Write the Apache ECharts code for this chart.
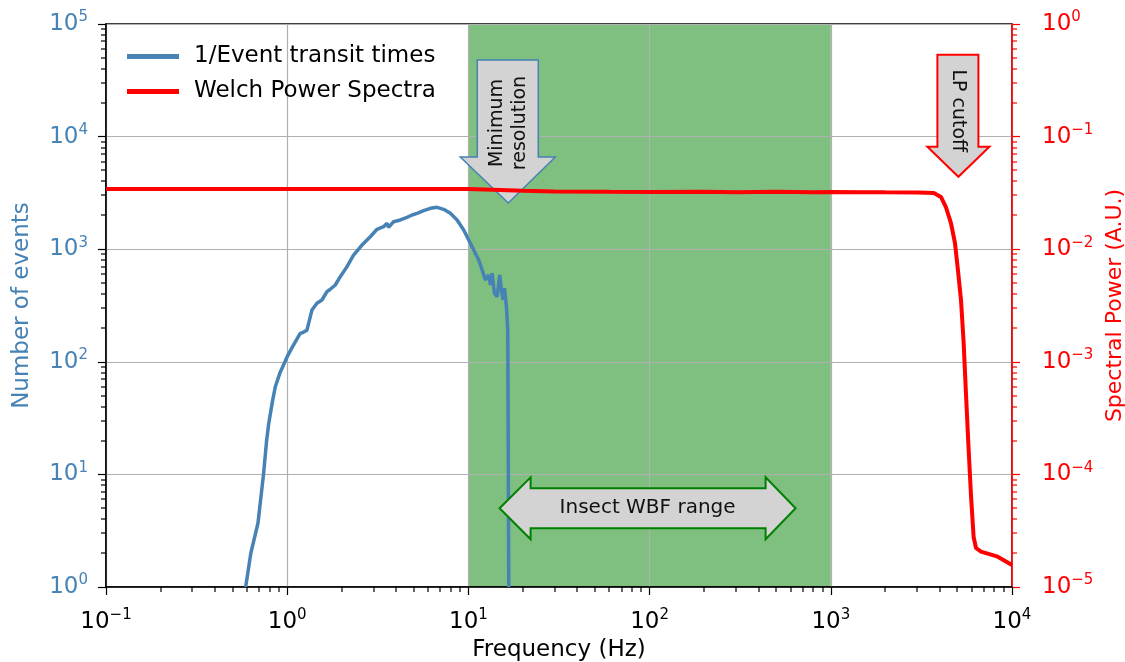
<!DOCTYPE html>
<html>
<head>
<meta charset="utf-8">
<script src="https://cdn.jsdelivr.net/npm/echarts@6/dist/echarts.min.js"></script>
<style>html,body{margin:0;background:#fff}#main{width:1125px;height:662px}</style>
</head>
<body>
<div id="main"></div>
<script>
// 1/Event transit times (Hz vs number of events)
var eventFreq = [0.59, 0.63, 0.69, 0.74, 0.77, 0.79, 0.83, 0.86, 0.91, 1.0, 1.08, 1.18, 1.22, 1.285, 1.369, 1.459,
  1.555, 1.657, 1.729, 1.842, 1.963, 2.138, 2.324, 2.586, 2.875, 3.131, 3.404, 3.555, 3.628, 3.867, 4.21,
  4.585, 4.887, 5.208, 5.662, 6.166, 6.714, 7.30, 7.95, 8.66, 9.42, 10.04, 10.70, 11.40, 11.91, 12.41,
  12.95, 13.23, 13.52, 13.92, 14.41, 14.89, 15.22, 15.55, 15.81, 16.22, 16.49, 16.55, 16.7];
var eventCount = [1, 2, 3.7, 10, 20, 28, 45, 60, 79, 111, 140, 179, 182, 191, 288, 331,
  354, 420, 441, 481, 570, 700, 888, 1089, 1291, 1503, 1585, 1698, 1565, 1755, 1817,
  1920, 2013, 2084, 2198, 2307, 2355, 2261, 2084, 1817, 1479, 1208, 985, 802, 653, 532,
  590, 481, 611, 406, 378, 590, 434, 354, 450, 308, 191, 46, 1];

// Welch power spectrum (Hz vs A.U.)
var welchFreq = [0.1, 1, 10, 15, 20, 30, 60, 100, 200, 300, 500, 800, 1000, 1500, 2000, 3000, 3705, 4055,
  4315, 4600, 4845, 5030, 5230, 5410, 5570, 5740, 5930, 6140, 6330, 6740, 8340, 10000];
var welchPower = [0.0343, 0.0343, 0.0342, 0.0335, 0.033, 0.0326, 0.0323, 0.0322, 0.0324, 0.0321, 0.0323, 0.0321, 0.0322, 0.0321, 0.0320, 0.0319, 0.0316, 0.0291,
  0.0237, 0.0171, 0.01135, 0.00653, 0.00354, 0.00147, 5.28e-4, 1.9e-4, 6.8e-5, 2.78e-5, 2.22e-5, 2.06e-5, 1.86e-5, 1.57e-5];

// shaded insect wing-beat band (Hz)
var wbfRange = [10, 1000];

// annotation anchors [Hz, left-axis value]
var minResAnchor = [16.6, 2570];
var lpAnchor = [5060, 4400];
var wbfAnchor = [97.5, 5];

var FONT = 'DejaVu Sans';
var BLUE = '#4682b4';

function powLabel(v) {
  var e = Math.round(Math.log10(v));
  return '{b|10}{s|' + String(e).replace('-', '\u2212') + '}';
}
function richFor(color) {
  return {
    b: { fontSize: 23, fontFamily: FONT, color: color, lineHeight: 28 },
    s: { fontSize: 15, fontFamily: FONT, color: color, verticalAlign: 'top', lineHeight: 15 }
  };
}
function minorVals(lo, hi) {
  var out = [];
  for (var e = lo; e < hi; e++) for (var m = 2; m <= 9; m++) out.push(m * Math.pow(10, e));
  return out;
}
function pair(xs, ys) { return xs.map(function (x, i) { return [x, ys[i]]; }); }
function shift(c, pts) { return pts.map(function (p) { return [c[0] + p[0], c[1] + p[1]]; }); }

var chart = echarts.init(document.getElementById('main'));

chart.setOption({
  animation: false,
  grid: { left: 106, right: 113, top: 24, bottom: 75, show: true, z: 1, outerBoundsMode: 'none', containLabel: false,
    backgroundColor: 'transparent', borderColor: '#000', borderWidth: 1.5 },
  legend: {
    orient: 'vertical', left: 122, top: 40, itemWidth: 52, itemHeight: 5, itemGap: 12,
    icon: 'rect', data: ['1/Event transit times', 'Welch Power Spectra'],
    textStyle: { fontFamily: FONT, fontSize: 23, color: '#000', padding: [0, 0, 0, 10] }
  },
  xAxis: {
    type: 'log', logBase: 10, min: 0.1, max: 10000, z: 1,
    name: 'Frequency (Hz)', nameLocation: 'middle', nameGap: 52,
    nameTextStyle: { fontFamily: FONT, fontSize: 23, color: '#000' },
    axisLine: { lineStyle: { color: '#000', width: 1.5 } },
    axisTick: { length: 8, lineStyle: { color: '#000', width: 1.2 } },
    axisLabel: { margin: 21, formatter: powLabel, rich: richFor('#000') },
    splitLine: { show: true, lineStyle: { color: '#b0b0b0', width: 1.2 } }
  },
  yAxis: [{
    type: 'log', logBase: 10, min: 1, max: 100000, position: 'left', z: 1,
    name: 'Number of events', nameLocation: 'middle', nameGap: 72, nameRotate: 90,
    nameTextStyle: { fontFamily: FONT, fontSize: 23, color: BLUE },
    axisLine: { show: true, lineStyle: { color: '#000', width: 1.5 } },
    axisTick: { show: true, length: 8, lineStyle: { color: '#000', width: 1.2 } },
    axisLabel: { margin: 18, formatter: powLabel, rich: richFor(BLUE) },
    splitLine: { show: true, lineStyle: { color: '#b0b0b0', width: 1.2 } }
  }, {
    type: 'log', logBase: 10, min: 0.00001, max: 1, position: 'right', z: 1,
    name: 'Spectral Power (A.U.)', nameLocation: 'middle', nameGap: 61, nameRotate: 90,
    nameTextStyle: { fontFamily: FONT, fontSize: 22, color: '#ff0000' },
    axisLine: { show: true, lineStyle: { color: '#ff0000', width: 1.5 } },
    axisTick: { show: true, length: 8, lineStyle: { color: '#ff0000', width: 1.2 } },
    axisLabel: { margin: 30, formatter: powLabel, rich: richFor('#ff0000') },
    splitLine: { show: false }
  }],
  series: [
    {
      // green band
      type: 'custom', z: 0, silent: true, data: [[1, 1]],
      renderItem: function (params, api) {
        var a = api.coord([wbfRange[0], 100000]);
        var b = api.coord([wbfRange[1], 1]);
        return { type: 'rect', shape: { x: a[0], y: a[1], width: b[0] - a[0], height: b[1] - a[1] },
          style: { fill: 'rgba(0,128,0,0.5)' } };
      }
    },
    {
      name: '1/Event transit times', type: 'line', z: 2, yAxisIndex: 0,
      data: pair(eventFreq, eventCount), showSymbol: false, symbol: 'none',
      lineStyle: { color: BLUE, width: 3.5 }, itemStyle: { color: BLUE }
    },
    {
      // "Minimum resolution" arrow
      type: 'custom', z: 3, silent: true, data: [minResAnchor],
      renderItem: function (params, api) {
        var c = api.coord(minResAnchor);
        return { type: 'group', children: [
          { type: 'polygon', shape: { points: shift(c, [[-31, -143], [30, -143], [30, -46], [47, -46], [0, 0], [-48, -46], [-31, -46]]) },
            style: { fill: '#d3d3d3', stroke: BLUE, lineWidth: 1.5 } },
          { type: 'text', x: c[0], y: c[1] - 80, rotation: Math.PI / 2,
            style: { text: 'Minimum\nresolution', font: '19px DejaVu Sans', fill: '#111', align: 'center', verticalAlign: 'middle', lineHeight: 23 } }
        ] };
      }
    },
    {
      // "LP cutoff" arrow
      type: 'custom', z: 3, silent: true, data: [lpAnchor],
      renderItem: function (params, api) {
        var c = api.coord(lpAnchor);
        return { type: 'group', children: [
          { type: 'polygon', shape: { points: shift(c, [[-21, -122], [20, -122], [20, -30], [31, -30], [0, 0], [-31, -30], [-21, -30]]) },
            style: { fill: '#d3d3d3', stroke: '#ff0000', lineWidth: 2 } },
          { type: 'text', x: c[0], y: c[1] - 66, rotation: -Math.PI / 2,
            style: { text: 'LP cutoff', font: '19px DejaVu Sans', fill: '#111', align: 'center', verticalAlign: 'middle' } }
        ] };
      }
    },
    {
      // "Insect WBF range" double arrow
      type: 'custom', z: 5, silent: true, data: [wbfAnchor],
      renderItem: function (params, api) {
        var c = api.coord(wbfAnchor);
        return { type: 'group', children: [
          { type: 'polygon', shape: { points: shift(c, [[-148, 0], [-117, -31], [-117, -20], [118, -20], [118, -31], [148, 0],
              [118, 31], [118, 20], [-117, 20], [-117, 31]]) },
            style: { fill: '#d3d3d3', stroke: '#008000', lineWidth: 2 } },
          { type: 'text', x: c[0], y: c[1], style: { text: 'Insect WBF range', font: '20px DejaVu Sans', fill: '#111', align: 'center', verticalAlign: 'middle' } }
        ] };
      }
    },
    {
      name: 'Welch Power Spectra', type: 'line', z: 4, yAxisIndex: 1,
      data: pair(welchFreq, welchPower), showSymbol: false, symbol: 'none',
      lineStyle: { color: '#ff0000', width: 4 }, itemStyle: { color: '#ff0000' }
    }
  ]
});

// minor ticks at 2..9 x 10^k, placed through the axes' own scales
var ticks = [];
var yBase = Math.round(chart.convertToPixel({ yAxisIndex: 0 }, 1));
var xLeft = Math.round(chart.convertToPixel({ xAxisIndex: 0 }, 0.1));
var xRight = Math.round(chart.convertToPixel({ xAxisIndex: 0 }, 10000));
minorVals(-1, 4).forEach(function (v) {
  var px = Math.round(chart.convertToPixel({ xAxisIndex: 0 }, v));
  ticks.push({ type: 'rect', silent: true, z: 10, shape: { x: px - 0.6, y: yBase, width: 1.2, height: 5 }, style: { fill: '#000' } });
});
minorVals(0, 5).forEach(function (v) {
  var py = Math.round(chart.convertToPixel({ yAxisIndex: 0 }, v));
  ticks.push({ type: 'rect', silent: true, z: 10, shape: { x: xLeft - 5, y: py - 0.6, width: 5, height: 1.2 }, style: { fill: '#000' } });
});
minorVals(-5, 0).forEach(function (v) {
  var py = Math.round(chart.convertToPixel({ yAxisIndex: 1 }, v));
  ticks.push({ type: 'rect', silent: true, z: 10, shape: { x: xRight, y: py - 0.6, width: 5, height: 1.2 }, style: { fill: '#ff0000' } });
});
chart.setOption({ graphic: { elements: ticks } });
</script>
</body>
</html>
